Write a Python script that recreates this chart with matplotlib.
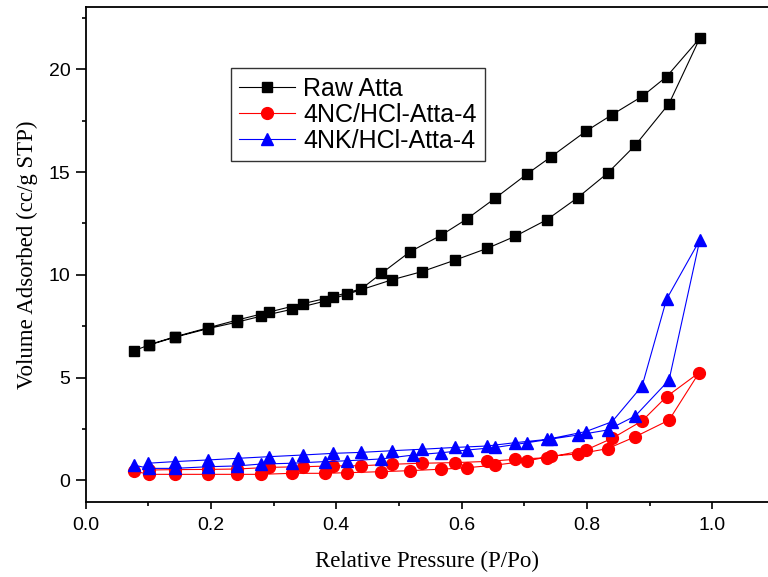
import numpy as np
import matplotlib.pyplot as plt
from matplotlib.ticker import MultipleLocator, FormatStrFormatter

# Raw Atta, adsorption then desorption branch
raw_ads_p = [0.077, 0.101, 0.142, 0.195, 0.242, 0.279, 0.329, 0.382, 0.417, 0.489,
             0.536, 0.590, 0.641, 0.685, 0.736, 0.785, 0.833, 0.877, 0.931, 0.980]
raw_ads_v = [6.31, 6.58, 6.96, 7.38, 7.70, 7.98, 8.32, 8.72, 9.05, 9.76,
             10.15, 10.72, 11.29, 11.87, 12.68, 13.75, 14.95, 16.30, 18.33, 21.51]
raw_des_p = [0.927, 0.888, 0.840, 0.798, 0.743, 0.705, 0.654, 0.608, 0.567, 0.518,
             0.472, 0.440, 0.394, 0.346, 0.293, 0.242, 0.195, 0.142, 0.101]
raw_des_v = [19.64, 18.68, 17.79, 16.98, 15.75, 14.92, 13.74, 12.71, 11.92, 11.13,
             10.07, 9.32, 8.93, 8.59, 8.19, 7.80, 7.42, 6.98, 6.60]

# 4NC/HCl-Atta-4
nc_ads_p = [0.077, 0.101, 0.142, 0.195, 0.242, 0.279, 0.329, 0.382, 0.417, 0.472, 0.518,
            0.567, 0.608, 0.654, 0.705, 0.743, 0.785, 0.833, 0.877, 0.931, 0.979]
nc_ads_v = [0.45, 0.29, 0.29, 0.29, 0.29, 0.29, 0.34, 0.34, 0.37, 0.42, 0.47,
            0.54, 0.61, 0.74, 0.94, 1.18, 1.28, 1.54, 2.12, 2.93, 5.24]
nc_des_p = [0.927, 0.888, 0.840, 0.798, 0.736, 0.685, 0.641, 0.590, 0.536, 0.489,
            0.440, 0.394, 0.346, 0.293, 0.242, 0.195, 0.142, 0.101]
nc_des_v = [4.07, 2.89, 2.04, 1.47, 1.10, 1.02, 0.92, 0.86, 0.83, 0.78,
            0.71, 0.70, 0.66, 0.63, 0.55, 0.53, 0.52, 0.50]

# 4NK/HCl-Atta-4
nk_ads_p = [0.077, 0.101, 0.142, 0.195, 0.242, 0.279, 0.329, 0.382, 0.417, 0.472, 0.523,
            0.567, 0.608, 0.654, 0.705, 0.743, 0.785, 0.833, 0.877, 0.931, 0.980]
nk_ads_v = [0.74, 0.58, 0.58, 0.66, 0.70, 0.79, 0.83, 0.91, 0.95, 1.04, 1.23,
            1.34, 1.47, 1.60, 1.83, 2.01, 2.20, 2.45, 3.13, 4.88, 11.69]
nk_des_p = [0.927, 0.888, 0.840, 0.798, 0.736, 0.685, 0.641, 0.590, 0.536, 0.489,
            0.440, 0.394, 0.346, 0.293, 0.243, 0.195, 0.142, 0.099]
nk_des_v = [8.81, 4.59, 2.85, 2.37, 1.99, 1.83, 1.67, 1.60, 1.51, 1.44,
            1.36, 1.31, 1.23, 1.15, 1.07, 0.99, 0.91, 0.83]

W, H = 768, 577
fig = plt.figure(figsize=(W / 100, H / 100), dpi=100)
left, right, top, bottom = 85.7, 768, 7.3, 501.7
ax = fig.add_axes([left / W, 1 - bottom / H, (right - left) / W, (bottom - top) / H])

ax.plot(raw_ads_p + raw_des_p, raw_ads_v + raw_des_v, color='black', lw=0.8,
        marker='s', ms=7, label='Raw Atta')
ax.plot(nc_ads_p + nc_des_p, nc_ads_v + nc_des_v, color='red', lw=0.8,
        marker='o', ms=8.5, label='4NC/HCl-Atta-4')
ax.plot(nk_ads_p + nk_des_p, nk_ads_v + nk_des_v, color='blue', lw=0.8,
        marker='^', ms=9, label='4NK/HCl-Atta-4')

ax.set_xlim(0, (right - left) / 626.6)
ax.set_ylim(-(bottom - 480.3) / 20.55, (480.3 - top) / 20.55)

ax.xaxis.set_major_locator(MultipleLocator(0.2))
ax.xaxis.set_minor_locator(MultipleLocator(0.1))
ax.xaxis.set_major_formatter(FormatStrFormatter('%.1f'))
ax.yaxis.set_major_locator(MultipleLocator(5))
ax.yaxis.set_minor_locator(MultipleLocator(2.5))

ax.spines['right'].set_visible(False)
for s in ['left', 'bottom', 'top']:
    ax.spines[s].set_linewidth(1.3)
ax.tick_params(axis='x', which='major', direction='out', length=5, width=1.2, pad=6, labelsize=14)
ax.tick_params(axis='y', which='major', direction='out', length=7, width=1.2, pad=4, labelsize=14)
ax.tick_params(which='minor', direction='out', length=3, width=1.2)
for lab in ax.get_xticklabels() + ax.get_yticklabels():
    lab.set_fontfamily('Liberation Sans')

ax.set_xlabel('Relative Pressure (P/Po)', fontfamily='Liberation Serif', fontsize=16.5, labelpad=12)
ax.set_ylabel('Volume Adsorbed (cc/g STP)', fontfamily='Liberation Serif', fontsize=16.5, labelpad=8)

leg = ax.legend(loc='upper left', bbox_to_anchor=(230.7 / W, 1 - 68.3 / H),
                bbox_transform=fig.transFigure, fancybox=False, frameon=True,
                prop={'family': 'Liberation Sans', 'size': 18}, numpoints=1,
                handlelength=2.25, handletextpad=0.33, labelspacing=0.08,
                borderpad=0.33, borderaxespad=0)
leg.get_frame().set_edgecolor('black')
leg.get_frame().set_linewidth(1.0)

fig.savefig('out.png', dpi=100)
